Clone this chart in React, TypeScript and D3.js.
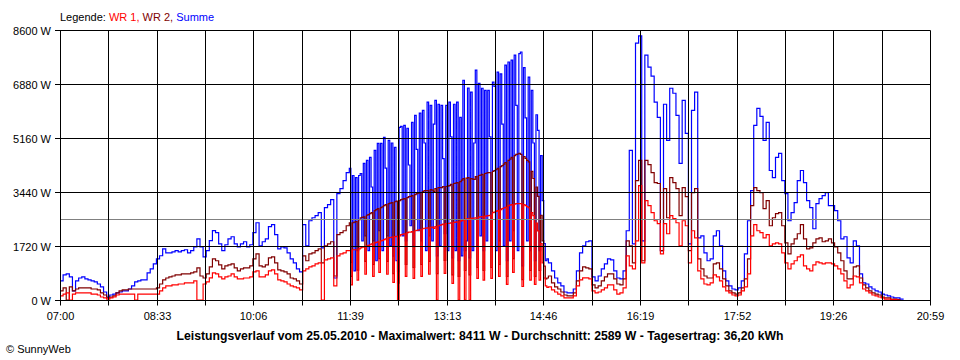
import React from "react";
import * as d3 from "d3";

// time axis: minutes after midnight
const START_MINUTE = 420; // 07:00
const END_MINUTE = 1259; // 20:59
const MORNING_STEP = 3; // 07:00 - 11:39
const MIDDAY_START = 699; // 11:39
const MIDDAY_STEP = 1.5; // 11:39 - 14:51 (dense, cloudy period)
const AFTERNOON_START = 891; // 14:51
const AFTERNOON_STEP = 3;

// ---------- Summe (W) ----------
const summeMorning = [
  608, 800, 830, 735, 290, 610, 700, 735, 670, 640,
  610, 575, 510, 415, 255, 95, 160, 190, 225, 255,
  290, 290, 350, 450, 575, 610, 640, 640, 865, 990,
  1150, 1310, 1410, 1630, 1500, 1500, 1535, 1570, 1535, 1570,
  1600, 1500, 1570, 1695, 1950, 1695, 1375, 1570, 1890, 2210,
  2145, 1790, 1570, 1760, 1950, 2015, 1790, 1695, 1790, 1855,
  1695, 1760, 2145, 2460, 1725, 1855, 1950, 2335, 2400, 2080,
  1630, 1695, 1660, 1500, 1310, 1185, 990, 895, 2400, 1725,
  2525, 2620, 2685, 2780, 1660, 2940, 3035, 3200, 700, 3390,
  3550, 3805, 4060,
];
const summeMidday = [
  4190, 1200, 3965, 925, 3900, 1570, 3965, 4030, 1885, 4350,
  2045, 4445, 1570, 4540, 3600, 1885, 4765, 1250, 4990, 2205,
  4990, 1570, 5180, 4200, 2045, 5085, 1725, 5000, 1400, 4860,
  1250, 900, 5500, 5530, 2045, 5560, 1885, 5470, 4300, 2365,
  5660, 1725, 5880, 4800, 2205, 5950, 1885, 6040, 5000, 1570,
  6300, 2045, 6200, 1885, 5600, 6360, 1405, 6235, 1725, 6200,
  4500, 2110, 6200, 1570, 6300, 5200, 1340, 6235, 1570, 6300,
  1250, 5820, 1405, 7000, 1570, 1885, 6750, 1340, 6620, 1570,
  5000, 7320, 1725, 6900, 2045, 6745, 1570, 6680, 1885, 6680,
  5200, 1725, 6940, 6800, 1570, 7260, 1885, 7200, 5600, 1725,
  7480, 1250, 7580, 1885, 7640, 2205, 7800, 6200, 1570, 7850,
  7900, 1090, 7400, 5800, 1885, 7100, 1570, 6680, 5000, 1250,
  5900, 5400, 1570, 4600, 3165, 1800, 1250, 1310,
];
const summeAfternoon = [
  1185, 925,
  700, 545, 450, 255, 225, 225, 350, 925, 1500, 1725,
  1855, 1885, 735, 610, 765, 990, 1150, 1310, 1280, 925,
  700, 670, 925, 2205, 4765, 1790, 8185, 8411, 1885, 7800,
  7415, 7130, 6300, 5820, 1570, 6235, 5085, 6745, 6585, 5880,
  4350, 6360, 5305, 1790, 6040, 6620, 1980, 2045, 1500, 1250,
  1310, 2045, 2205, 1725, 925, 610, 450, 350, 320, 385,
  610, 1470, 2525, 3485, 5560, 6105, 5850, 5085, 5660, 4125,
  3900, 4540, 4670, 3805, 3390, 2525, 2780, 3100, 3805, 4125,
  3740, 3165, 2940, 2270, 3070, 3230, 3325, 3420, 3005, 3005,
  2845, 2525, 1950, 2015, 1340, 1185, 1885, 1725, 830, 545,
  510, 415, 350, 290, 255, 190, 160, 130, 95, 65,
  65, 30, 10,
];

// ---------- WR 2 (W) ----------
const wr2Morning = [
  290, 385, 0, 415, 290, 350, 385, 385, 385, 385,
  350, 350, 320, 225, 160, 65, 95, 130, 225, 290,
  320, 320, 350, 350, 350, 350, 350, 350, 350, 350,
  350, 385, 510, 640, 700, 735, 765, 800, 800, 830,
  830, 830, 865, 895, 1025, 765, 700, 830, 1055, 1310,
  1250, 1120, 990, 1090, 1120, 1150, 1025, 925, 990, 1025,
  1025, 1090, 1310, 1470, 1090, 1055, 1120, 1340, 1375, 1185,
  960, 925, 895, 830, 700, 670, 610, 510, 1405, 1250,
  1470, 1500, 1570, 1630, 1185, 1725, 1790, 1855, 765, 2080,
  2145, 2205, 2365,
];
const wr2Midday = [
  2460, 750, 2460, 2480, 2500, 950, 2560, 2620, 2630, 2650,
  1230, 2700, 2720, 2750, 2780, 1130, 2845, 2880, 2910, 1320,
  2940, 2970, 3005, 3035, 1230, 3070, 3085, 3100, 840, 3130,
  3150, 540, 3165, 3200, 3215, 3230, 1130, 3260, 3290, 3300,
  3325, 1035, 3355, 3390, 3400, 3420, 1130, 3450, 3485, 3485,
  3485, 1230, 3515, 3500, 3450, 3550, 840, 3580, 3580, 3580,
  3615, 1265, 3615, 3630, 3645, 3680, 800, 3710, 3720, 3740,
  750, 3770, 3820, 3870, 940, 3880, 3900, 800, 3870, 3850,
  3840, 3930, 1035, 3965, 3980, 4000, 940, 4030, 4045, 4060,
  4060, 1035, 4095, 4125, 4150, 4190, 1130, 4250, 4280, 4330,
  4380, 750, 4445, 4490, 4540, 1320, 4600, 4640, 4650, 4670,
  4640, 650, 4570, 4510, 4450, 4400, 940, 4100, 3870, 750,
  3600, 3300, 940, 2700, 1885, 1080, 670, 700,
];
const wr2Afternoon = [
  765, 545,
  415, 350, 255, 160, 130, 130, 225, 610, 925, 1055,
  1025, 990, 480, 385, 450, 610, 735, 830, 830, 670,
  510, 480, 670, 1885, 1725, 1185, 3805, 4445, 1250, 4445,
  4315, 4060, 3740, 3710, 1570, 3550, 2620, 3900, 3740, 3550,
  2685, 3580, 3290, 1570, 3420, 3550, 1310, 990, 765, 700,
  700, 1150, 1185, 990, 670, 450, 290, 225, 190, 225,
  385, 670, 1310, 3005, 3580, 3485, 3420, 2910, 3165, 2365,
  2620, 2750, 2780, 2365, 1820, 1470, 1790, 1950, 2110, 2400,
  1950, 1630, 1660, 1820, 1950, 1980, 1855, 1885, 1950, 1820,
  1695, 1500, 1250, 925, 670, 670, 1055, 1090, 700, 480,
  385, 290, 225, 190, 160, 95, 65, 65, 30, 30,
  10, 0,
];

// ---------- WR 1 (W) ----------
const wr1Morning = [
  130, 190, 225, 0, 190, 225, 225, 225, 225, 225,
  190, 190, 160, 95, 65, 30, 65, 95, 160, 190,
  190, 190, 190, 190, 0, 190, 190, 190, 190, 190,
  190, 190, 290, 385, 450, 450, 480, 480, 510, 510,
  545, 545, 545, 610, 0, 0, 510, 575, 705, 865,
  830, 735, 670, 735, 765, 830, 735, 670, 670, 700,
  700, 735, 895, 925, 735, 735, 800, 925, 960, 830,
  640, 610, 575, 510, 450, 415, 385, 320, 925, 990,
  1055, 1090, 1150, 1185, 0, 1280, 1310, 1340, 450, 1405,
  1470, 1500, 1570,
];
const wr1Midday = [
  1570, 480, 1600, 1600, 1600, 630, 1630, 1660, 1680, 1695,
  820, 1725, 1740, 1760, 1790, 750, 1820, 1835, 1850, 880,
  1885, 1900, 1920, 1950, 820, 1980, 1990, 2000, 560, 2020,
  2030, 0, 2045, 2080, 2095, 2110, 750, 2145, 2160, 2165,
  2175, 690, 2205, 2220, 2230, 2240, 750, 2270, 2285, 2290,
  2300, 820, 2315, 2320, 2280, 2335, 0, 2365, 2380, 2400,
  2415, 850, 2430, 2440, 2445, 2460, 530, 2475, 2480, 2490,
  0, 2510, 2530, 2560, 0, 2575, 2590, 0, 2600, 2605,
  2610, 2620, 690, 2640, 2650, 2655, 630, 2670, 2680, 2685,
  2700, 690, 2780, 2800, 2820, 2845, 750, 2880, 2910, 2930,
  2950, 500, 3005, 3020, 3035, 880, 3050, 3070, 3070, 3070,
  3070, 430, 3040, 3005, 2970, 2940, 630, 2780, 2685, 500,
  2450, 2200, 630, 1800, 1185, 700, 450, 400,
];
const wr1Afternoon = [
  415, 320,
  255, 190, 130, 65, 65, 65, 130, 450, 640, 705,
  705, 670, 290, 225, 255, 320, 385, 480, 480, 320,
  190, 225, 385, 1405, 1090, 990, 1885, 3645, 1185, 3165,
  3005, 2780, 2525, 2430, 1470, 2430, 2110, 2685, 2590, 2460,
  1725, 2525, 2365, 1185, 2205, 1980, 925, 670, 510, 480,
  545, 800, 735, 610, 415, 290, 225, 160, 130, 160,
  290, 415, 830, 2045, 2400, 2205, 2145, 1980, 2080, 1725,
  1790, 1820, 1790, 1500, 1185, 990, 1150, 1250, 1375, 1440,
  1090, 990, 925, 1120, 1215, 1185, 1150, 1185, 1185, 1150,
  1090, 990, 830, 610, 385, 480, 765, 735, 545, 350,
  290, 225, 160, 130, 95, 65, 30, 30, 10, 10,
  0, 0,
];

const yTickValues = [0, 1720, 3440, 5160, 6880, 8600];
const yTickLabels = ["0 W", "1720 W", "3440 W", "5160 W", "6880 W", "8600 W"];
const xTickLabels = ["07:00", "08:33", "10:06", "11:39", "13:13", "14:46", "16:19", "17:52", "19:26", "20:59"];
const average = 2589;
const legendParts = [
  { text: "Legende: ", color: "#000000" },
  { text: "WR 1, ", color: "#ff0000" },
  { text: "WR 2, ", color: "#800000" },
  { text: "Summe", color: "#0000ff" },
];
const title =
  "Leistungsverlauf vom 25.05.2010 - Maximalwert: 8411 W - Durchschnitt: 2589 W - Tagesertrag: 36,20 kWh";
const copyright = "\u00a9 SunnyWeb";

const FONT = "'Liberation Sans', Arial, sans-serif";

type Pt = { t: number; v: number };
function toPoints(morning: number[], midday: number[], afternoon: number[]): Pt[] {
  return [
    ...morning.map((v, i) => ({ t: START_MINUTE + i * MORNING_STEP, v })),
    ...midday.map((v, j) => ({ t: MIDDAY_START + j * MIDDAY_STEP, v })),
    ...afternoon.map((v, k) => ({ t: AFTERNOON_START + k * AFTERNOON_STEP, v })),
  ];
}

export default function App() {
  const width = 960;
  const height = 360;
  const x = d3.scaleLinear().domain([START_MINUTE, END_MINUTE]).range([60, 930]);
  const y = d3.scaleLinear().domain([0, 8600]).range([300, 30]);

  const nIntervals = (xTickLabels.length - 1) * 2;
  const tickMinutes = d3.range(nIntervals + 1).map(
    (k) => START_MINUTE + (k * (END_MINUTE - START_MINUTE)) / nIntervals
  );
  const crisp = (v: number) => Math.round(v) + 0.5;

  const line = d3
    .line<Pt>()
    .x((d) => x(d.t))
    .y((d) => y(d.v))
    .curve(d3.curveStepAfter);

  const series = [
    { data: toPoints(summeMorning, summeMidday, summeAfternoon), color: "#0000ff" },
    { data: toPoints(wr2Morning, wr2Midday, wr2Afternoon), color: "#800000" },
    { data: toPoints(wr1Morning, wr1Midday, wr1Afternoon), color: "#ff0000" },
  ];

  const x0 = crisp(x(START_MINUTE));
  const x1 = crisp(x(END_MINUTE));
  const yTop = crisp(y(8600));
  const yBot = crisp(y(0));

  return (
    <div style={{ position: "absolute", left: 0, top: 0 }}>
      <svg width={width} height={height} style={{ display: "block", background: "#ffffff" }}>
        <rect x={0} y={0} width={width} height={height} fill="#ffffff" />
        <text x={60} y={21} fontFamily={FONT} fontSize={11}>
          {legendParts.map((p, i) => (
            <tspan key={i} fill={p.color} style={{ whiteSpace: "pre" }}>
              {p.text}
            </tspan>
          ))}
        </text>

        {series.map((s, i) => (
          <path key={i} d={line(s.data) || ""} fill="none" stroke={s.color} strokeWidth={1.2} />
        ))}

        <line x1={x0} x2={x1} y1={crisp(y(average))} y2={crisp(y(average))} stroke="#808080" strokeWidth={1} />

        {yTickValues.map((v, i) => (
          <g key={"y" + i}>
            <line x1={55} x2={x1} y1={crisp(y(v))} y2={crisp(y(v))} stroke="#000" strokeWidth={1} />
            <text x={51} y={crisp(y(v)) + 4} textAnchor="end" fontFamily={FONT} fontSize={11} fill="#000">
              {yTickLabels[i]}
            </text>
          </g>
        ))}

        {tickMinutes.map((m, k) => (
          <line key={"x" + k} x1={crisp(x(m))} x2={crisp(x(m))} y1={yTop} y2={yBot + 5} stroke="#000" strokeWidth={1} />
        ))}
        {tickMinutes
          .filter((_, k) => k % 2 === 0)
          .map((m, k) => (
            <text key={"xl" + k} x={crisp(x(m))} y={320} textAnchor="middle" fontFamily={FONT} fontSize={11} fill="#000">
              {xTickLabels[k]}
            </text>
          ))}

        <text
          x={480}
          y={340}
          textAnchor="middle"
          fontFamily={FONT}
          fontSize={12}
          fontWeight="bold"
          fill="#000"
          textLength={607}
          lengthAdjust="spacingAndGlyphs"
        >
          {title}
        </text>
        <text x={6} y={353} fontFamily={FONT} fontSize={11} fill="#000">
          {copyright}
        </text>
      </svg>
    </div>
  );
}
